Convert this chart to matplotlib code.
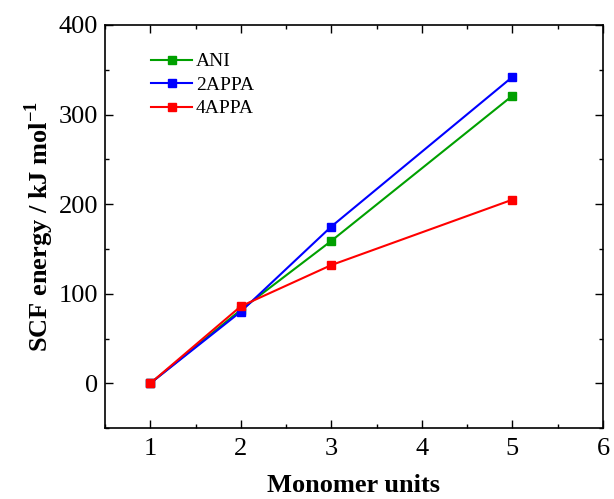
import matplotlib
matplotlib.use("Agg")
import matplotlib.pyplot as plt
from matplotlib.ticker import MultipleLocator

x = [1, 2, 3, 5]
ani = [0, 82, 159, 321]
appa2 = [0, 80, 175, 342]
appa4 = [0, 86, 132, 205]
labels = ["ANI", "2APPA", "4APPA"]
colors = ["#00a000", "#0000ff", "#ff0000"]

plt.rcParams['font.family'] = ['Liberation Serif', 'DejaVu Serif']
plt.rcParams['mathtext.fontset'] = 'custom'
plt.rcParams['mathtext.rm'] = 'Liberation Serif'
plt.rcParams['mathtext.bf'] = 'Liberation Serif:bold'
fig = plt.figure(figsize=(6.14, 4.99), dpi=100)
ax = fig.add_axes([0.171, 0.142, 0.811, 0.808])

for y, lab, c in zip([ani, appa2, appa4], labels, colors):
    ax.plot(x, y, '-s', color=c, lw=1.5, markersize=6, label=lab)

ax.set_xlim(0.5, 6)
ax.set_ylim(-50, 400)
ax.xaxis.set_major_locator(MultipleLocator(1))
ax.xaxis.set_minor_locator(MultipleLocator(0.5))
ax.yaxis.set_major_locator(MultipleLocator(100))
ax.yaxis.set_minor_locator(MultipleLocator(50))
ax.tick_params(which='both', direction='in', top=True, right=True, labelsize=19, width=1)
ax.tick_params(which='major', length=6)
ax.tick_params(which='minor', length=3)
ax.tick_params(axis='x', pad=7)
ax.tick_params(axis='y', pad=5)
for s in ax.spines.values():
    s.set_linewidth(1.2)

ax.set_xlabel("Monomer units", fontsize=19, fontweight='bold', labelpad=10)
ax.set_ylabel("SCF energy / kJ mol$^{\\mathbf{-1}}$", fontsize=19, fontweight='bold', labelpad=2)

ax.legend(loc='upper left', bbox_to_anchor=(0.077, 0.95), frameon=False, fontsize=14,
          handlelength=2.1, handletextpad=0.2, labelspacing=0.3, borderaxespad=0)

fig.savefig("out.png", dpi=100)
